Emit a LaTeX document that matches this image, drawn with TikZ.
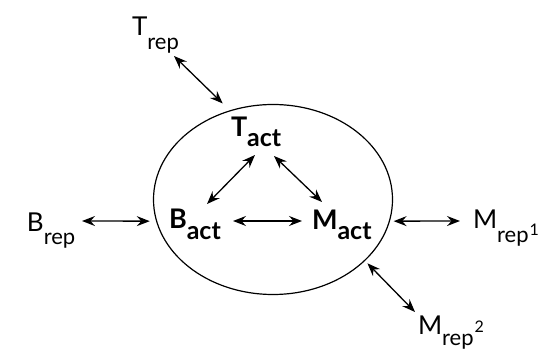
\documentclass[tikz,border=0pt]{standalone}
\usepackage{fontspec}
\setmainfont{Lato}
\usetikzlibrary{shapes.geometric,arrows.meta,calc}
\newcommand{\mainsz}{\fontsize{26}{26}\selectfont}
\newcommand{\subsz}{\fontsize{22}{22}\selectfont}
\newcommand{\actmainsz}{\fontsize{27}{27}\selectfont}
\newcommand{\actsubsz}{\fontsize{25}{25}\selectfont}
\newcommand{\supsz}{\fontsize{16}{16}\selectfont}
\newcommand{\labrep}[2]{{\mainsz #1}\raisebox{-#2}{\subsz rep}}
\newcommand{\labact}[2]{{\actmainsz\bfseries #1}\raisebox{-#2}{\actsubsz\bfseries act}}
\newcommand{\supnum}[3]{\kern#3\raisebox{#2}{\supsz #1}}
\tikzset{
  lbl/.style={inner sep=0pt, outer sep=0pt, anchor=base west},
  dbl/.style={<->, line width=1.3pt, >={Stealth[length=13pt,width=10pt,inset=4.5pt]}},
  cellstyle/.style={ellipse, draw, line width=1.2pt, minimum width=239pt, minimum height=190pt, inner sep=0pt}
}
\begin{document}
\begin{tikzpicture}[x=1pt,y=-1pt]
\fill[white] (0,0) rectangle (541,352);
\useasboundingbox (0,0) rectangle (541,352);
\node[cellstyle] (cell) at (273,199.5) {};
\node[lbl] (trep) at (132,36) {\labrep{T}{14pt}};
\node[lbl] (tact) at (231,137) {\labact{T}{10pt}};
\node[lbl] (bact) at (169,229) {\labact{B}{11pt}};
\node[lbl] (mact) at (312,230) {\labact{M}{10pt}};
\node[lbl] (brep) at (27,232) {\labrep{B}{13pt}};
\node[lbl] (mrepa) at (473,229) {\labrep{M}{14pt}\supnum{1}{-7pt}{1pt}};
\node[lbl] (mrepb) at (418,335) {\labrep{M}{11pt}\supnum{2}{2pt}{1pt}};
\draw[dbl] ($(trep.base west)+(42,20)$) -- ($(cell.115)+(-8.5,-6.4)$);
\draw[dbl] ($(tact.base west)+(24,18)$) -- ($(bact.base west)+(38,-25)$);
\draw[dbl] ($(tact.base west)+(43,19)$) -- ($(mact.base west)+(10,-28)$);
\draw[dbl] ($(bact.base west)+(64,-8)$) -- ($(mact.base west)+(-10,-9)$);
\draw[dbl] ($(brep.base west)+(55,-11)$) -- ($(cell.190)+(-6,1)$);
\draw[dbl] ($(cell.350)+(3.4,1)$) -- ($(mrepa.base west)+(-13,-8)$);
\draw[dbl] ($(cell.327)+(1.4,3.4)$) -- ($(mrepb.base west)+(-3,-23)$);
\end{tikzpicture}
\end{document}
